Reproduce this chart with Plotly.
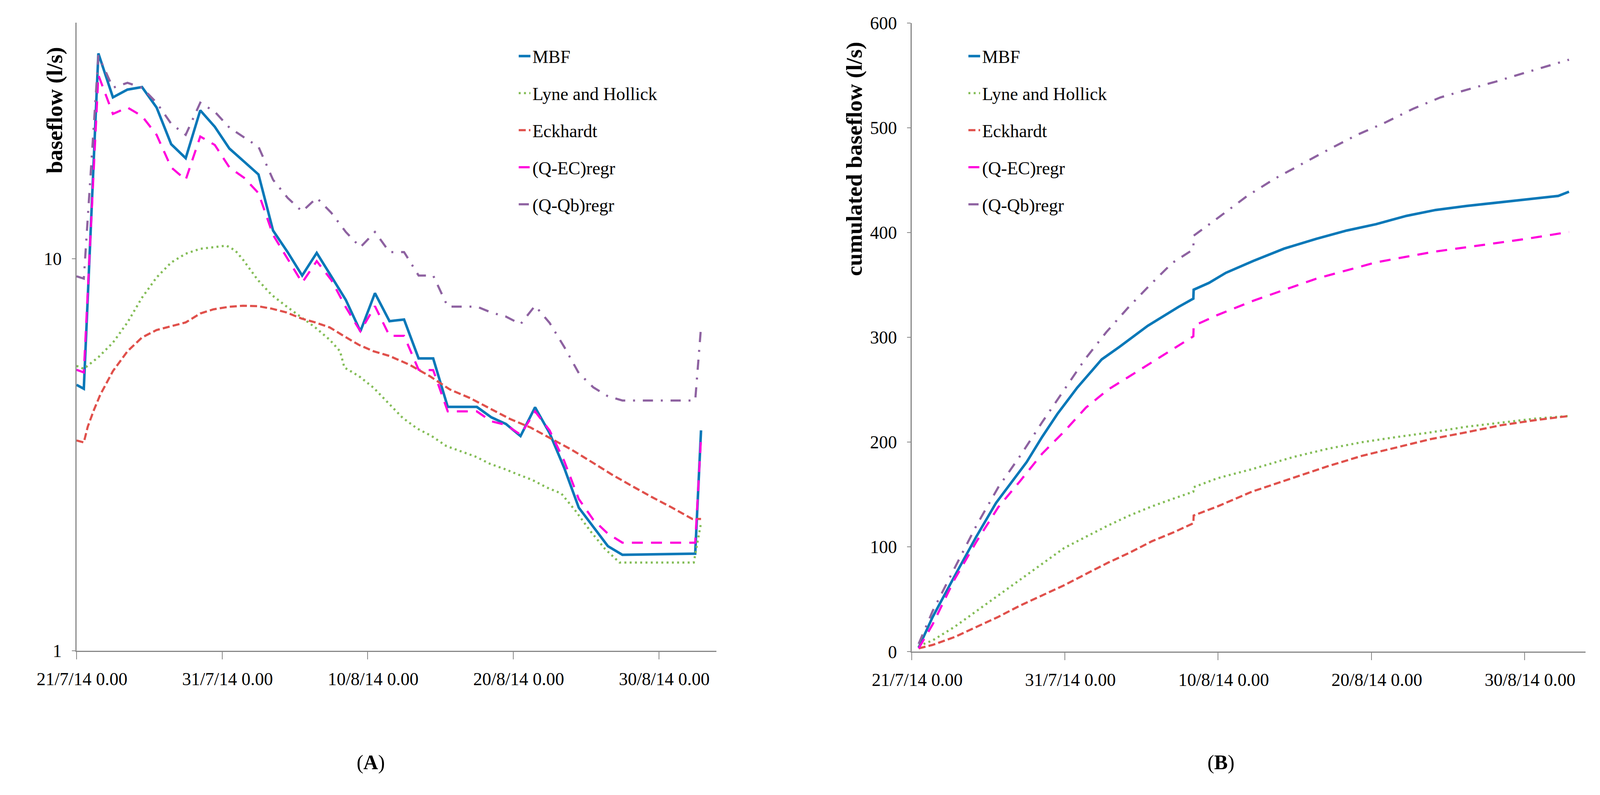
import numpy as np
import pandas as pd
import plotly.graph_objects as go

BASE = pd.Timestamp("2014-07-21 00:00")

# ---------------- Panel A: daily baseflow (l/s), log scale ----------------
DAYS_DAILY = [0, 0.5, 1.5, 2.5, 3.5, 4.5, 5.5, 6.5, 7.5, 8.5, 9.5, 10.5, 11.5, 12.5,
              13.5, 14.5, 15.5, 16.5, 17.5, 18.5, 19.5, 20.5, 21.5, 22.5, 23.5, 24.5,
              25.5, 26.5, 27.5, 28.5, 29.5, 30.5, 31.5, 32.5, 33.5, 34.5, 35.5, 36.5,
              37.5, 38.5, 39.5, 40.5, 41.5, 42.5, 42.9]

A_MBF = [4.77, 4.66, 33.4, 25.8, 27.0, 27.4, 24.3, 19.6, 18.05, 23.9, 21.7, 19.1, 17.7,
         16.4, 11.8, 10.4, 9.06, 10.35, 9.02, 7.85, 6.53, 8.17, 6.93, 7.0, 5.57, 5.57,
         4.19, 4.19, 4.19, 3.94, 3.79, 3.53, 4.18, 3.59, 2.93, 2.32, 2.07, 1.85,
         1.758, 1.76, 1.762, 1.765, 1.767, 1.77, 3.65]

A_QEC = [5.21, 5.13, 29.4, 23.4, 24.3, 23.1, 20.7, 17.1, 15.9, 20.5, 19.5, 17.1, 16.1,
         14.7, 11.5, 10.0, 8.69, 9.86, 8.83, 7.52, 6.53, 7.57, 6.36, 6.36, 5.21, 5.20,
         4.08, 4.08, 4.08, 3.85, 3.77, 3.56, 4.08, 3.65, 3.05, 2.44, 2.16, 1.99,
         1.888, 1.888, 1.888, 1.888, 1.888, 1.888, 3.5]

A_QQB = [9.02, 8.90, 33.0, 27.3, 28.1, 27.3, 25.0, 22.1, 20.7, 25.0, 23.7, 21.6, 20.4,
         19.3, 15.9, 14.3, 13.2, 14.3, 13.1, 11.7, 10.7, 11.7, 10.4, 10.4, 9.06, 9.06,
         7.55, 7.55, 7.55, 7.29, 7.12, 6.81, 7.59, 6.86, 5.96, 5.11, 4.70, 4.46,
         4.35, 4.35, 4.35, 4.35, 4.35, 4.35, 6.7]

A_LH_DAYS = [0, 0.5, 1.5, 2.5, 3.5, 4.5, 5.5, 6.5, 7.5, 8.5, 9.4, 10.3, 10.9, 11.45,
             12.45, 13.4, 14.4, 15.45, 16.4, 17.4, 18.1, 18.4, 19.4, 20.4, 21.4, 22.4,
             23.4, 24.4, 25.4, 26.4, 27.4, 28.4, 29.4, 30.3, 31.3, 32.3, 33.3, 34.3,
             35.3, 36.3, 37.3, 42.4, 42.9]
A_LH = [5.33, 5.24, 5.61, 6.11, 6.88, 7.96, 8.96, 9.78, 10.3, 10.6, 10.7, 10.8, 10.5,
        9.93, 8.83, 8.09, 7.57, 7.08, 6.68, 6.21, 5.81, 5.28, 5.02, 4.69, 4.30, 3.93,
        3.69, 3.53, 3.33, 3.23, 3.13, 3.00, 2.91, 2.82, 2.73, 2.61, 2.52, 2.27, 2.02,
        1.82, 1.68, 1.68, 2.12]

A_ECK_DAYS = [0, 0.5, 0.77, 1.2, 1.63, 2.5, 3.5, 4.5, 5.5, 6.5, 7.5, 8.5, 9.4, 10.45,
              11.45, 12.45, 13.4, 14.4, 15.45, 16.4, 17.4, 18.4, 19.4, 20.4, 21.5, 22.9,
              24.3, 25.65, 27.05, 28.4, 29.8, 31.2, 32.6, 34.0, 35.4, 36.75, 38.1, 39.5,
              40.9, 42.3, 42.9]
A_ECK = [3.44, 3.40, 3.73, 4.12, 4.50, 5.17, 5.81, 6.30, 6.58, 6.73, 6.88, 7.25, 7.43,
         7.54, 7.59, 7.57, 7.46, 7.30, 7.04, 6.88, 6.68, 6.34, 6.03, 5.81, 5.65, 5.36,
         5.01, 4.64, 4.41, 4.15, 3.90, 3.71, 3.48, 3.26, 3.03, 2.82, 2.64, 2.47, 2.32,
         2.17, 2.17]

# ---------------- Panel B: cumulated baseflow (l/s) ----------------
B_MBF_DAYS = [0.45, 1.36, 2.79, 4.22, 5.5, 7.5, 8.51, 9.51, 10.8, 12.4, 13.56, 15.4,
              17.4, 18.38, 18.4, 19.4, 20.5, 22.3, 24.3, 26.4, 28.4, 30.3, 32.3, 34.2,
              36.2, 38.1, 40.1, 42.2, 42.9]
B_MBF = [4.0, 33, 72, 110, 142, 181, 205, 227, 252, 279, 291, 311, 329, 337, 345.5,
         352, 361.6, 373, 384.7, 394, 402, 408, 416, 421.6, 425.4, 428.5, 432, 435, 439]

B_QEC_DAYS = [0.45, 1.36, 2.79, 4.22, 5.65, 7.08, 8.51, 9.94, 11.37, 12.8, 14.23, 15.67,
              17.1, 18.38, 18.4, 19.9, 22.3, 24.3, 26.4, 28.4, 30.3, 32.3, 34.2, 36.2,
              38.1, 40.1, 42.9]
B_QEC = [3.2, 26, 69, 105, 138, 163, 189, 210, 233, 250, 263, 276, 289, 301, 311, 321,
         335, 345.5, 356, 364, 371.6, 377, 382, 386, 390, 394, 400.6]

B_QQB_DAYS = [0.45, 1.36, 2.79, 4.22, 5.65, 7.08, 8.51, 9.94, 11.3, 12.7, 14.1, 15.55,
              17.0, 18.38, 18.4, 19.8, 20.6, 21.9, 23.7, 25.5, 27.3, 29.1, 30.9, 32.7,
              34.5, 36.3, 38.1, 39.9, 42.9]
B_QQB = [7.5, 38.7, 79.6, 120.4, 157, 187, 219, 250, 279, 305, 328, 350, 371, 384, 397,
         412, 421, 435, 451.5, 466, 480, 493.5, 505, 518, 529, 536.6, 544, 552, 565]

B_LH_DAYS = [0.45, 1.36, 2.79, 4.22, 5.65, 7.08, 8.51, 9.94, 11.37, 12.8, 14.23, 15.67,
             17.1, 18.38, 18.4, 19.96, 22.2, 24.9, 27.15, 29.4, 31.7, 33.9, 36.2, 38.4,
             40.7, 42.9]
B_LH = [5.4, 10.8, 23.7, 38.7, 53.8, 68.8, 83.9, 98.9, 109.7, 120.4, 130.1, 138.7,
        146.2, 152.7, 157, 165.6, 174.2, 185.8, 193.7, 200, 205, 209.4, 214.7, 218.6,
        222.5, 225]

B_ECK_DAYS = [0.45, 1.36, 2.79, 4.22, 5.65, 7.08, 8.51, 9.94, 11.37, 12.8, 14.23, 15.67,
              17.1, 18.38, 18.4, 19.96, 22.2, 27.15, 29.4, 31.7, 33.9, 36.2, 38.4, 40.7,
              42.9]
B_ECK = [3.2, 6.5, 14, 23.7, 33.3, 44.1, 53.8, 63.4, 74.2, 84.9, 94.6, 105.4, 114,
         122.6, 130, 138.7, 152.7, 177, 187, 195, 203, 209.4, 216, 221, 225]

X_START = "2014-07-21 00:00"
X_END = "2014-09-02 23:15"
TICK_FORMAT = "%-d/%-m/%y %-H.%M"
FONT = "Liberation Serif"

W, H = 4080, 2000

STYLE = {
    "MBF": dict(color="#0A78B8", width=6.5, dash="solid"),
    "Lyne and Hollick": dict(color="#84BD57", width=5.5, dash="5px,8.5px"),
    "Eckhardt": dict(color="#E0504B", width=5.5, dash="18px,8px"),
    "(Q-EC)regr": dict(color="#FF00DC", width=5.5, dash="28px,21px"),
    "(Q-Qb)regr": dict(color="#8E62A1", width=5.5, dash="26px,20px,5px,20px"),
}


def to_dates(days):
    return BASE + pd.to_timedelta(np.array(days, dtype=float), unit="D")


fig = go.Figure()

panel_a = [
    ("MBF", DAYS_DAILY, A_MBF),
    ("Lyne and Hollick", A_LH_DAYS, A_LH),
    ("Eckhardt", A_ECK_DAYS, A_ECK),
    ("(Q-EC)regr", DAYS_DAILY, A_QEC),
    ("(Q-Qb)regr", DAYS_DAILY, A_QQB),
]
panel_b = [
    ("MBF", B_MBF_DAYS, B_MBF),
    ("Lyne and Hollick", B_LH_DAYS, B_LH),
    ("Eckhardt", B_ECK_DAYS, B_ECK),
    ("(Q-EC)regr", B_QEC_DAYS, B_QEC),
    ("(Q-Qb)regr", B_QQB_DAYS, B_QQB),
]

for name, d, v in panel_a:
    fig.add_trace(go.Scatter(x=to_dates(d), y=v, mode="lines", name=name,
                             line=STYLE[name], xaxis="x", yaxis="y",
                             legend="legend", legendgroup="a_" + name))
for name, d, v in panel_b:
    fig.add_trace(go.Scatter(x=to_dates(d), y=v, mode="lines", name=name,
                             line=STYLE[name], xaxis="x2", yaxis="y2",
                             legend="legend2", legendgroup="b_" + name))

axis_common = dict(showline=True, linecolor="#878787", linewidth=2.5, showgrid=False,
                   zeroline=False, ticks="outside", tickcolor="#878787", tickwidth=1.6,
                   tickfont=dict(family=FONT, size=46, color="black"))

xcommon = dict(axis_common, type="date", range=[X_START, X_END], tick0=X_START,
               dtick=10 * 86400000, tickformat=TICK_FORMAT, ticklen=19,
               ticklabelshift=14, ticklabelstandoff=11)

legend_common = dict(font=dict(family=FONT, size=46, color="black"),
                     bgcolor="rgba(0,0,0,0)", traceorder="grouped",
                     tracegroupgap=32, xanchor="left", yanchor="top")

fig.update_layout(
    width=W, height=H,
    margin=dict(l=0, r=0, t=0, b=0),
    paper_bgcolor="white", plot_bgcolor="white",
    font=dict(family=FONT, color="black"),
    xaxis=dict(xcommon, domain=[0.0216, 0.4335], anchor="y"),
    yaxis=dict(axis_common, type="log", range=[0, np.log10(40)], tickvals=[1, 10],
               ticktext=["1", "10"], ticklen=9, ticklabelstandoff=17,
               domain=[0.1625, 0.9872], anchor="x"),
    xaxis2=dict(xcommon, domain=[0.5591, 0.9926], anchor="y2"),
    yaxis2=dict(axis_common, range=[0, 600], tickvals=[0, 100, 200, 300, 400, 500, 600],
                ticklen=9, ticklabelstandoff=17,
                domain=[0.1614, 0.9867], anchor="x2"),
    legend=dict(legend_common, x=0.3049, y=0.962),
    legend2=dict(legend_common, x=0.5943, y=0.962),
    annotations=[
        dict(text="<b>baseflow (l/s)</b>", textangle=-90, xref="paper", yref="paper",
             x=0.0076, y=0.8723, xanchor="center", yanchor="middle",
             showarrow=False, font=dict(family=FONT, size=58, color="black")),
        dict(text="<b>cumulated baseflow (l/s)</b>", textangle=-90, xref="paper",
             yref="paper", x=0.5222, y=0.8082, xanchor="center",
             yanchor="middle", showarrow=False,
             font=dict(family=FONT, size=58, color="black")),
        dict(text="(<b>A</b>)", xref="paper", yref="paper", x=0.2110, y=0.016,
             xanchor="center", yanchor="middle", showarrow=False,
             font=dict(family=FONT, size=52, color="black")),
        dict(text="(<b>B</b>)", xref="paper", yref="paper", x=0.7580, y=0.016,
             xanchor="center", yanchor="middle", showarrow=False,
             font=dict(family=FONT, size=52, color="black")),
    ],
)

fig.write_html("out.html")
